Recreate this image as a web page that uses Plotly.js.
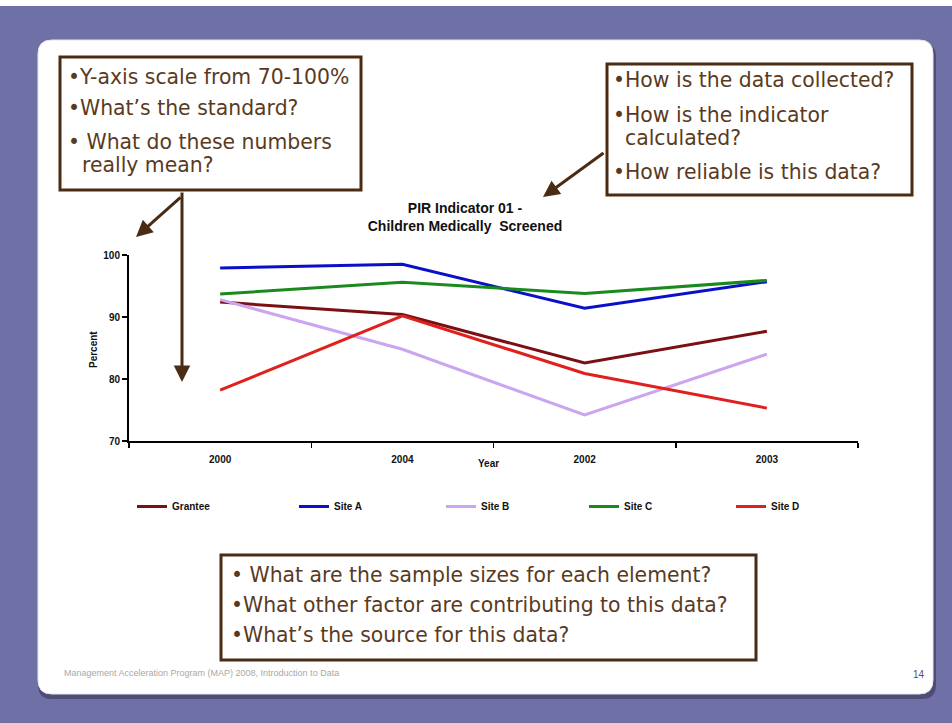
<!DOCTYPE html>
<html>
<head>
<meta charset="utf-8">
<script src="https://cdn.plot.ly/plotly-3.0.1.min.js"></script>
<style>html,body{margin:0;padding:0;background:#6f70a6;}#chart{width:952px;height:723px;}</style>
</head>
<body>
<div id="chart"></div>
<script>
// ---- data ----
var years = ['2000', '2004', '2002', '2003'];
var grantee = [92.4, 90.4, 82.6, 87.7];
var siteA = [97.9, 98.5, 91.4, 95.7];
var siteB = [92.8, 84.8, 74.2, 84.0];
var siteC = [93.7, 95.6, 93.8, 95.9];
var siteD = [78.2, 90.2, 80.9, 75.3];
var seriesNames = ['Grantee', 'Site A', 'Site B', 'Site C', 'Site D'];
var yTicks = [70, 80, 90, 100];

var chartTitle = 'PIR Indicator 01 -<br>Children Medically  Screened';
var box1Lines = ['\u2022Y-axis scale from 70-100%', '\u2022What\u2019s the standard?', '\u2022 What do these numbers', 'really mean?'];
var box2Lines = ['\u2022How is the data collected?', '\u2022How is the indicator', 'calculated?', '\u2022How reliable is this data?'];
var box3Lines = ['\u2022 What are the sample sizes for each element?', '\u2022What other factor are contributing to this data?', '\u2022What\u2019s the source for this data?'];
var footerText = 'Management Acceleration Program (MAP) 2008, Introduction to Data';
var pageNum = '14';

// ---- layout geometry (pixels) ----
var W = 952, H = 723;
var L = 129, R = 858, T = 255, B = 441;
function px(x) { return (x - L) / (R - L); }
function py(y) { return 1 - (y - T) / (B - T); }
function rrect(x0, y0, x1, y1, r) {
  function P(x, y) { return px(x).toFixed(5) + ',' + py(y).toFixed(5); }
  return 'M' + P(x0 + r, y0) + ' L' + P(x1 - r, y0) + ' Q' + P(x1, y0) + ' ' + P(x1, y0 + r) +
    ' L' + P(x1, y1 - r) + ' Q' + P(x1, y1) + ' ' + P(x1 - r, y1) +
    ' L' + P(x0 + r, y1) + ' Q' + P(x0, y1) + ' ' + P(x0, y1 - r) +
    ' L' + P(x0, y0 + r) + ' Q' + P(x0, y0) + ' ' + P(x0 + r, y0) + ' Z';
}
function rect(x0, y0, x1, y1, fill, lc, lw) {
  return {type: 'rect', xref: 'paper', yref: 'paper', x0: px(x0), x1: px(x1), y0: py(y1), y1: py(y0),
    fillcolor: fill, line: {color: lc, width: lw}, layer: 'above'};
}

var brown = '#4a2c14';
var textBrown = '#5a3a1e';
var boxFont = {family: 'DejaVu Sans', size: 20.4, color: textBrown};
var legendFont = {family: 'Liberation Sans, Arial', size: 10, color: '#111111', weight: 'bold'};

var colors = ['#7a0f14', '#0a10c8', '#c9a6ef', '#1b8a1e', '#e0201c'];
var legendIds = ['legend', 'legend2', 'legend3', 'legend4', 'legend5'];
var legendLineStart = [138, 300, 447, 590, 737];
var data = [grantee, siteA, siteB, siteC, siteD];
var traces = data.map(function (vals, i) {
  return {x: years, y: vals, type: 'scatter', mode: 'lines', name: seriesNames[i],
    legend: legendIds[i], line: {color: colors[i], width: 3}};
});

var shapes = [
  rect(0, 0, W, 6, '#ffffff', 'rgba(0,0,0,0)', 0),
  {type: 'path', xref: 'paper', yref: 'paper', path: rrect(38, 43, 936, 699, 14), fillcolor: 'rgba(50,50,80,0.55)', line: {width: 0}, layer: 'below'},
  {type: 'path', xref: 'paper', yref: 'paper', path: rrect(38, 40, 933, 694, 14), fillcolor: '#ffffff', line: {color: '#e6e6ee', width: 1}, layer: 'below'},
  rect(60, 57, 361, 190, '#ffffff', brown, 3),
  rect(607, 64, 912, 195, '#ffffff', brown, 3),
  rect(221, 555, 756, 660, '#ffffff', brown, 3)
];

var annotations = [];
function addText(t, x, y, font, xanchor) {
  annotations.push({xref: 'paper', yref: 'paper', x: px(x), y: py(y), text: t, showarrow: false,
    xanchor: xanchor || 'left', yanchor: 'middle', font: font});
}
addText(box1Lines[0], 66, 77, boxFont);
addText(box1Lines[1], 66, 108, boxFont);
addText(box1Lines[2], 66, 142, boxFont);
addText(box1Lines[3], 80, 165, boxFont);
addText(box2Lines[0], 611, 80, boxFont);
addText(box2Lines[1], 611, 115, boxFont);
addText(box2Lines[2], 623, 138, boxFont);
addText(box2Lines[3], 611, 172, boxFont);
addText(box3Lines[0], 229, 575, boxFont);
addText(box3Lines[1], 229, 605, boxFont);
addText(box3Lines[2], 229, 635, boxFont);
addText(footerText, 62, 673, {family: 'Liberation Sans, Arial', size: 9, color: '#a8a8a8'});
addText(pageNum, 927, 674, {family: 'Liberation Sans, Arial', size: 10, color: '#555555'}, 'right');
addText('Year', 488, 463, {family: 'Liberation Sans, Arial', size: 10, color: '#111111', weight: 'bold'}, 'center');
annotations.push({xref: 'paper', yref: 'paper', x: px(93), y: py(350), text: 'Percent', showarrow: false,
  textangle: -90, xanchor: 'center', yanchor: 'middle',
  font: {family: 'Liberation Sans, Arial', size: 10, color: '#111111', weight: 'bold'}});
function arrow(hx, hy, tx, ty) {
  annotations.push({xref: 'paper', yref: 'paper', x: px(hx), y: py(hy), ax: tx - hx, ay: ty - hy,
    text: '', showarrow: true, arrowhead: 2, arrowsize: 1.1, arrowwidth: 3, arrowcolor: brown});
}
arrow(182, 382, 182, 191);
arrow(136, 237, 182, 196);
arrow(543, 197, 605, 152);

var layout = {
  width: W, height: H,
  margin: {l: L, r: W - R, t: T, b: H - B, pad: 0},
  paper_bgcolor: '#6f70a6',
  plot_bgcolor: 'rgba(0,0,0,0)',
  font: {family: 'Liberation Sans, Arial', size: 10, color: '#111111'},
  title: {text: chartTitle, xref: 'container', yref: 'container', x: 465 / W, y: 1 - 213 / H,
    xanchor: 'center', yanchor: 'middle',
    font: {family: 'Liberation Sans, Arial', size: 14, color: '#111111', weight: 'bold'}},
  showlegend: true,
  xaxis: {type: 'category', range: [-0.5, 3.5], showgrid: false, zeroline: false,
    showline: true, linecolor: '#000000', linewidth: 2, ticks: 'outside', tickson: 'boundaries',
    ticklen: 5, tickcolor: '#000000', tickwidth: 1.5, ticklabelstandoff: 8,
    tickfont: {family: 'Liberation Sans, Arial', size: 10, color: '#111111', weight: 'bold'}},
  yaxis: {range: [70, 100], tickvals: yTicks, showgrid: false, zeroline: false,
    showline: true, linecolor: '#000000', linewidth: 2, ticks: 'outside', ticklen: 5,
    tickcolor: '#000000', tickwidth: 1.5,
    tickfont: {family: 'Liberation Sans, Arial', size: 10, color: '#111111', weight: 'bold'}},
  shapes: shapes,
  annotations: annotations
};
legendIds.forEach(function (id, i) {
  layout[id] = {orientation: 'h', x: px(legendLineStart[i] - 6), y: py(492), xanchor: 'left', yanchor: 'top',
    bgcolor: 'rgba(0,0,0,0)', font: legendFont};
});

Plotly.newPlot('chart', traces, layout, {displayModeBar: false, staticPlot: true});
</script>
</body>
</html>
